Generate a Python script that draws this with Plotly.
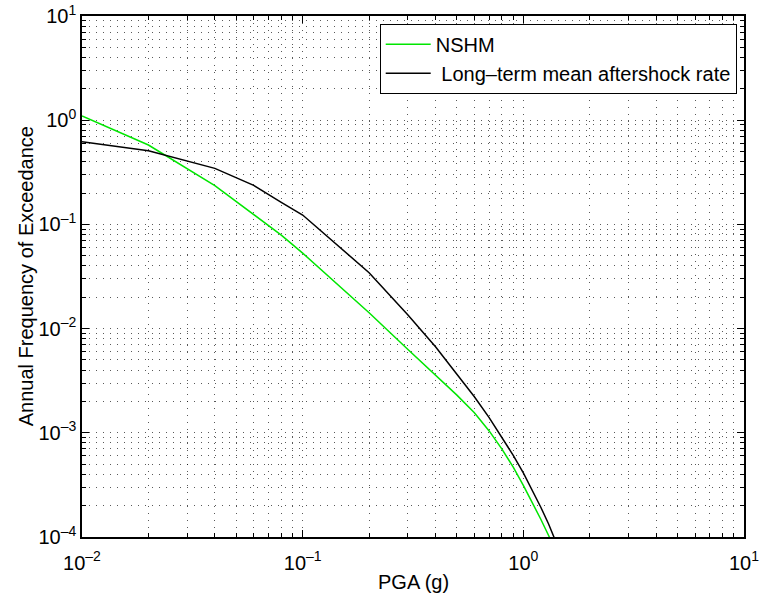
import plotly.graph_objects as go

pga_black = [0.01, 0.02, 0.04, 0.06, 0.08, 0.1, 0.2, 0.3, 0.4, 0.5, 0.6, 0.7, 0.8, 0.9, 1.0, 1.1, 1.2, 1.3, 1.4, 1.5]
afe_black = [0.622, 0.509, 0.345, 0.237, 0.163, 0.123, 0.0344, 0.0135, 0.0067, 0.0037, 0.00222, 0.0014,
             0.000913, 0.000608, 0.000412, 0.000281, 0.000193, 0.000134, 0.000093, 0.000064]

pga_green = [0.01, 0.02, 0.04, 0.06, 0.08, 0.1, 0.2, 0.3, 0.4, 0.5, 0.6, 0.7, 0.8, 0.9, 1.0, 1.1, 1.2, 1.3, 1.4]
afe_green = [1.10, 0.578, 0.235, 0.125, 0.079, 0.053, 0.0142, 0.0063, 0.0036, 0.0023, 0.001556, 0.001042,
             0.000698, 0.000468, 0.000313, 0.000214, 0.000148, 0.000104, 0.0000741]

x_tickvals = [0.01, 0.1, 1, 10]
x_ticktext = ["10<sup>\u20132</sup>", "10<sup>\u20131</sup>", "10<sup>0</sup>", "10<sup>1</sup>"]
y_tickvals = [1e-4, 1e-3, 1e-2, 1e-1, 1, 10]
y_ticktext = ["10<sup>\u20134</sup>", "10<sup>\u20133</sup>", "10<sup>\u20132</sup>",
              "10<sup>\u20131</sup>", "10<sup>0</sup>", "10<sup>1</sup>"]

x_minor = [d * m for d in x_tickvals[:-1] for m in range(2, 10)]
y_minor = [d * m for d in y_tickvals[:-1] for m in range(2, 10)]

FONT = "Liberation Sans, Arial, Helvetica, sans-serif"
GRIDC = "rgba(0,0,0,0.65)"
GDASH = "1px,6px"


def axis_common(minor_vals):
    return dict(
        showline=True, linecolor="black", linewidth=1.5, mirror="allticks",
        ticks="inside", ticklen=7, tickwidth=1, tickcolor="black",
        showgrid=True, gridcolor=GRIDC, griddash=GDASH, gridwidth=1,
        zeroline=False, automargin=False, ticklabeloverflow="allow",
        tickfont=dict(family=FONT, size=20, color="black"),
        minor=dict(tickmode="array", tickvals=minor_vals,
                   showgrid=True, gridcolor=GRIDC, griddash=GDASH, gridwidth=1,
                   ticks="inside", ticklen=4, tickcolor="black"),
    )


fig = go.Figure()
fig.add_trace(go.Scatter(x=pga_green, y=afe_green, mode="lines", name="NSHM",
                         line=dict(color="#00e600", width=1.5)))
fig.add_trace(go.Scatter(x=pga_black, y=afe_black, mode="lines",
                         name="\u00a0Long\u2013term mean aftershock rate",
                         line=dict(color="black", width=1.5)))

fig.update_xaxes(type="log", range=[-2, 1], tickvals=x_tickvals, ticktext=x_ticktext,
                 ticklabelstandoff=7, **axis_common(x_minor))
fig.update_yaxes(type="log", range=[-4, 1], tickvals=y_tickvals, ticktext=y_ticktext,
                 **axis_common(y_minor))

fig.add_annotation(text="PGA (g)", xref="paper", yref="paper", x=0.5, y=-0.087,
                   xanchor="center", yanchor="middle", showarrow=False,
                   font=dict(family=FONT, size=20, color="black"))
fig.add_annotation(text="Annual Frequency of Exceedance", xref="paper", yref="paper",
                   x=-0.085, y=0.5, textangle=-90, xanchor="center", yanchor="middle",
                   showarrow=False, font=dict(family=FONT, size=20, color="black"))

fig.update_layout(
    width=759, height=596,
    margin=dict(l=82, r=15, t=16, b=59),
    paper_bgcolor="white", plot_bgcolor="white",
    font=dict(family=FONT, size=20, color="black"),
    showlegend=True,
    legend=dict(x=0.989, y=0.985, xanchor="right", yanchor="top",
                bgcolor="white", bordercolor="black", borderwidth=1,
                font=dict(family=FONT, size=20, color="black"),
                itemwidth=45, tracegroupgap=0),
)

fig.write_html("out.html", config={"displayModeBar": False},
               post_script="document.body.style.margin='0';")
